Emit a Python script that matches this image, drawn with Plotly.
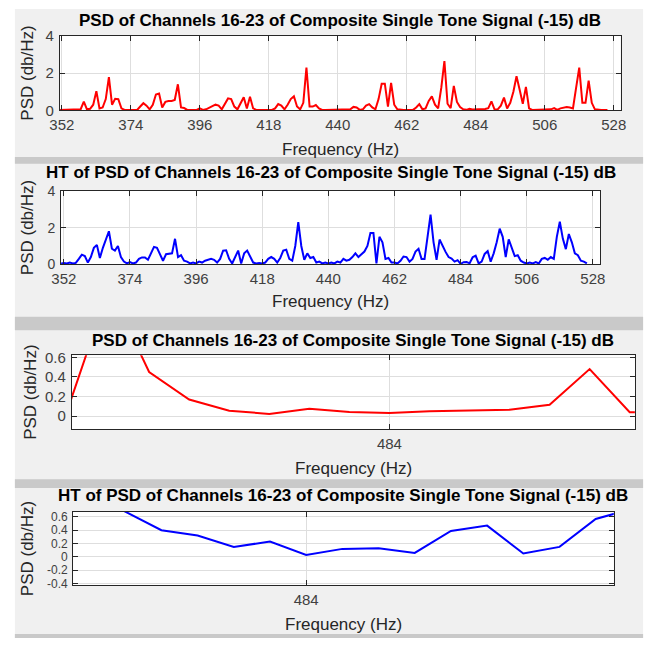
import plotly.graph_objects as go

W, H = 652, 646

# ---------------- data (1 Hz bins) ----------------
freq = list(range(351, 527))

psd = [
    0.02, 0.02, 0.02, 0.02, 0.02, 0.02, 0.05, 0.06, 0.47, 0.05,   # 351-360
    0.08, 0.30, 1.03, 0.10, 0.15, 0.60, 1.78, 0.30, 0.62, 0.60,   # 361-370
    0.10, 0.02, 0.02, 0.02, 0.02, 0.02, 0.20, 0.38, 0.25, 0.05,   # 371-380
    0.30, 0.85, 0.90, 0.15, 0.45, 0.50, 0.50, 0.55, 1.40, 0.15,   # 381-390
    0.12, 0.02, 0.02, 0.02, 0.02, 0.10, 0.02, 0.05, 0.15, 0.22,   # 391-400
    0.30, 0.25, 0.05, 0.35, 0.64, 0.60, 0.20, 0.05, 0.35, 0.70,   # 401-410
    0.10, 0.73, 0.10, 0.02, 0.02, 0.02, 0.02, 0.02, 0.02, 0.10,   # 411-420
    0.33, 0.25, 0.05, 0.30, 0.60, 0.75, 0.20, 0.05, 0.40, 2.30,   # 421-430
    0.20, 0.20, 0.28, 0.10, 0.02, 0.02, 0.02, 0.02, 0.02, 0.02,   # 431-440
    0.02, 0.02, 0.02, 0.05, 0.18, 0.15, 0.02, 0.05, 0.25, 0.33,   # 441-450
    0.15, 0.05, 0.60, 1.43, 1.43, 0.20, 1.47, 0.30, 0.05, 0.02,   # 451-460
    0.02, 0.02, 0.02, 0.02, 0.15, 0.33, 0.05, 0.10, 0.50, 0.75,   # 461-470
    0.30, 0.10, 1.20, 2.65, 0.35, 0.11, 1.31, 0.45, 0.17, 0.056,  # 471-480
    0.023, 0.076, 0.043, 0.033, 0.05, 0.056, 0.065, 0.116, 0.48, 0.04,  # 481-490
    0.05, 0.25, 0.68, 0.10, 0.40, 1.00, 1.83, 1.10, 0.35, 1.26,   # 491-500
    0.10, 0.02, 0.02, 0.02, 0.02, 0.02, 0.02, 0.05, 0.12, 0.02,   # 501-510
    0.10, 0.15, 0.18, 0.15, 0.10, 1.20, 2.30, 0.40, 0.40, 1.60,   # 511-520
    0.40, 0.05, 0.02, 0.02, 0.02, 0.02,                           # 521-526
]

ht = [
    0.05, 0.08, 0.05, 0.10, 0.05, 0.08, 0.30, 0.53, 0.45, 0.10,   # 351-360
    0.40, 0.90, 1.06, 0.35, 0.90, 1.30, 1.80, 0.85, 0.75, 1.00,   # 361-370
    0.40, 0.15, 0.05, 0.12, 0.05, 0.10, 0.30, 0.38, 0.38, 0.25,   # 371-380
    0.60, 0.95, 0.90, 0.50, 0.20, 0.55, 0.58, 0.60, 1.39, 0.40,   # 381-390
    0.50, 0.20, 0.15, 0.05, 0.10, 0.05, 0.15, 0.10, 0.20, 0.25,   # 391-400
    0.30, 0.25, 0.10, 0.30, 0.75, 0.77, 0.30, 0.05, 0.45, 0.75,   # 401-410
    0.05, 0.60, 0.75, 0.40, 0.10, 0.05, 0.08, 0.05, 0.10, 0.30,   # 411-420
    0.40, 0.30, 0.10, 0.35, 0.75, 0.80, 0.30, 0.20, 1.00, 2.30,   # 421-430
    1.00, 0.25, 0.60, 0.35, 0.40, 0.10, 0.15, 0.05, 0.10, 0.05,   # 431-440
    0.10, 0.05, 0.15, 0.10, 0.30, 0.20, 0.25, 0.40, 0.60, 0.40,   # 441-450
    0.55, 0.70, 1.00, 1.70, 1.70, 0.05, 1.50, 1.20, 0.30, 0.35,   # 451-460
    0.10, 0.10, 0.05, 0.20, 0.43, 0.40, 0.15, 0.30, 0.70, 0.85,   # 461-470
    0.30, 0.30, 1.50, 2.70, 1.20, 0.25, 1.35, 1.00, 0.68, 0.40,   # 471-480
    0.32, 0.15, 0.23, 0.03, 0.12, 0.13, 0.06, 0.39, 0.47, 0.05,   # 481-490
    0.15, 0.57, 0.72, 0.15, 0.60, 1.20, 1.94, 1.50, 0.40, 1.36,   # 491-500
    0.90, 0.45, 0.50, 0.20, 0.10, 0.05, 0.10, 0.05, 0.12, 0.05,   # 501-510
    0.30, 0.35, 0.25, 0.40, 0.30, 1.50, 2.32, 1.40, 0.83, 1.65,   # 511-520
    1.20, 0.60, 0.50, 0.20, 0.15, 0.05,                           # 521-526
]

title_psd = "PSD of Channels 16-23 of Composite Single Tone Signal (-15) dB"
title_ht = "HT of PSD of Channels 16-23 of Composite Single Tone Signal (-15) dB"
x_label = "Frequency (Hz)"
y_label = "PSD (db/Hz)"

wide_ticks = [352, 374, 396, 418, 440, 462, 484, 506, 528]
zoom_ticks = [484]
y_ticks_wide = [0, 2, 4]
y_ticks_p3 = [0, 0.2, 0.4, 0.6]
y_ticks_p4 = [-0.4, -0.2, 0, 0.2, 0.4, 0.6]

# ---------------- layout (pixel geometry) ----------------
panels = [
    dict(box=(51, 625, 27.7, 104), xr=[351.35, 530.2], yr=[0, 4], xt=wide_ticks, yt=y_ticks_wide,
         title=title_psd, color="#ff0000", y=psd, ty=12, xly=144, ylx=18, yfs=15),
    dict(box=(52.3, 604, 186.7, 262.3), xr=[351.1, 530.4], yr=[0, 4], xt=wide_ticks, yt=y_ticks_wide,
         title=title_ht, color="#0000ff", y=ht, ty=168, xly=300, ylx=18, yfs=14),
    dict(box=(63.3, 639.6, 355.7, 431.7), xr=[476.07, 490.13], yr=[-0.134, 0.62], xt=zoom_ticks, yt=y_ticks_p3,
         title=title_psd, color="#ff0000", y=psd, ty=340, xly=472, ylx=21, yfs=15),
    dict(box=(64.6, 618, 516.7, 591.7), xr=[477.56, 492.5], yr=[-0.425, 0.673], xt=zoom_ticks, yt=y_ticks_p4,
         title=title_ht, color="#0000ff", y=ht, ty=500, xly=632, ylx=18, yfs=12),
]

def px_x(v):
    return v / W

def px_y(v):
    return 1 - v / H

def fmt(v):
    return "%g" % v

AX = "#262626"
GRID = "#dedede"
FONT = "Liberation Sans, Arial, sans-serif"

fig = go.Figure()
shapes = []
annotations = []

shapes.append(dict(type="rect", xref="paper", yref="paper", x0=px_x(5), x1=px_x(648), y0=0, y1=1,
                   fillcolor="#f0f0f0", line=dict(width=0), layer="below"))
for (a, b) in [(152, 159), (316, 330), (483, 492), (642, 646)]:
    shapes.append(dict(type="rect", xref="paper", yref="paper", x0=px_x(5), x1=px_x(648),
                       y0=px_y(b), y1=px_y(a), fillcolor="#c9c9c9", line=dict(width=0), layer="below"))

layout_axes = {}
for i, p in enumerate(panels, start=1):
    x0, x1, y0, y1 = p["box"]
    xa = "x" if i == 1 else "x%d" % i
    ya = "y" if i == 1 else "y%d" % i
    fig.add_trace(go.Scatter(x=freq, y=p["y"], mode="lines", xaxis=xa, yaxis=ya,
                             line=dict(color=p["color"], width=2), showlegend=False,
                             hoverinfo="skip"))
    shapes.append(dict(type="rect", xref="paper", yref="paper", x0=px_x(x0), x1=px_x(x1),
                       y0=px_y(y1), y1=px_y(y0), fillcolor="white", line=dict(width=0), layer="below"))
    xkey = "xaxis" if i == 1 else "xaxis%d" % i
    ykey = "yaxis" if i == 1 else "yaxis%d" % i
    layout_axes[xkey] = dict(
        domain=[px_x(x0), px_x(x1)], anchor=ya, range=p["xr"],
        tickmode="array", tickvals=p["xt"], ticktext=[fmt(v) for v in p["xt"]],
        ticks="inside", ticklen=5, tickcolor=AX, tickwidth=1,
        showline=True, linecolor=AX, linewidth=1, mirror="ticks",
        showgrid=True, gridcolor=GRID, gridwidth=1, zeroline=False,
        tickfont=dict(family=FONT, size=15, color="#404040"), ticklabelstandoff=1,
        fixedrange=True,
    )
    layout_axes[ykey] = dict(
        domain=[px_y(y1), px_y(y0)], anchor=xa, range=p["yr"],
        tickmode="array", tickvals=p["yt"], ticktext=[fmt(v) for v in p["yt"]],
        ticks="inside", ticklen=5, tickcolor=AX, tickwidth=1,
        showline=True, linecolor=AX, linewidth=1, mirror="ticks",
        showgrid=True, gridcolor=GRID, gridwidth=1, zeroline=False,
        tickfont=dict(family=FONT, size=p["yfs"], color="#404040"), ticklabelstandoff=2,
        fixedrange=True,
    )
    cx = px_x((x0 + x1) / 2)
    cy = px_y((y0 + y1) / 2)
    annotations.append(dict(text="<b>%s</b>" % p["title"], xref="paper", yref="paper",
                            x=cx, y=px_y(p["ty"]), xanchor="center", yanchor="middle",
                            showarrow=False, font=dict(family=FONT, size=17, color="#000000")))
    annotations.append(dict(text=x_label, xref="paper", yref="paper",
                            x=cx, y=px_y(p["xly"]), xanchor="center", yanchor="middle",
                            showarrow=False, font=dict(family=FONT, size=17, color=AX)))
    annotations.append(dict(text=y_label, xref="paper", yref="paper", textangle=-90,
                            x=px_x(p["ylx"]), y=cy, xanchor="center", yanchor="middle",
                            showarrow=False, font=dict(family=FONT, size=17, color=AX)))

fig.update_layout(
    width=W, height=H, margin=dict(l=0, r=0, t=0, b=0),
    paper_bgcolor="white", plot_bgcolor="rgba(0,0,0,0)",
    shapes=shapes, annotations=annotations, showlegend=False,
    **layout_axes,
)

fig.write_html("out.html")
